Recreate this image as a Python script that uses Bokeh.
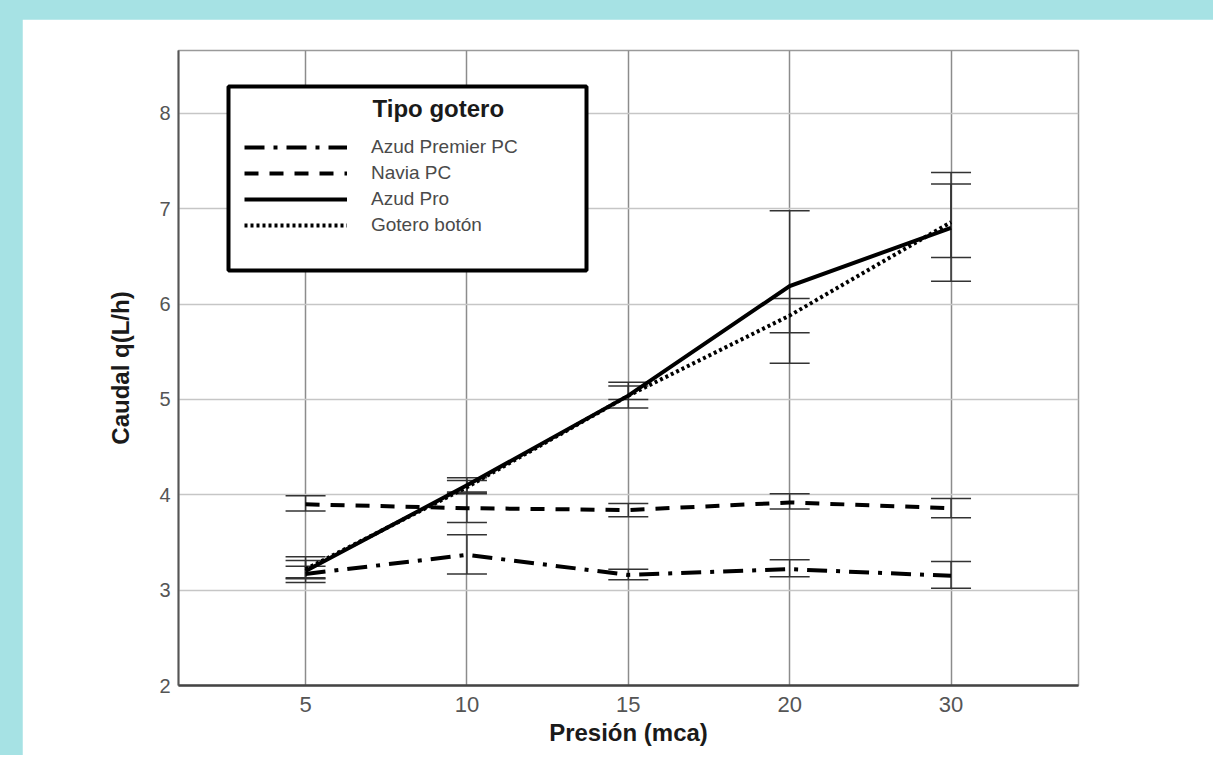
from bokeh.plotting import figure
from bokeh.models import (ColumnDataSource, Whisker, TeeHead, Legend, LegendItem,
                          BoxAnnotation, Label, FixedTicker, Range1d, Spacer)
from bokeh.layouts import row, column
from bokeh.embed import file_html
from bokeh.resources import INLINE

# ---------------- data ----------------
pressures = ["5", "10", "15", "20", "30"]
x_pos = [1, 2, 3, 4, 5]

premier_mean = [3.17, 3.37, 3.16, 3.22, 3.15]
premier_low = [3.12, 3.17, 3.11, 3.14, 3.02]
premier_high = [3.25, 3.58, 3.22, 3.32, 3.30]

navia_mean = [3.90, 3.86, 3.84, 3.92, 3.86]
navia_low = [3.83, 3.71, 3.77, 3.85, 3.76]
navia_high = [3.99, 4.02, 3.91, 4.01, 3.96]

pro_mean = [3.20, 4.10, 5.04, 6.19, 6.80]
pro_low = [3.08, 4.01, 4.91, 5.38, 6.24]
pro_high = [3.35, 4.18, 5.18, 6.98, 7.38]

boton_mean = [3.22, 4.08, 5.04, 5.88, 6.86]
boton_low = [3.13, 4.03, 5.00, 5.70, 6.49]
boton_high = [3.31, 4.15, 5.14, 6.06, 7.26]

series_names = ["Azud Premier PC", "Navia PC", "Azud Pro", "Gotero botón"]

FONT = "Liberation Sans"

p = figure(width=1191, height=736, output_backend="svg", toolbar_location=None,
           x_range=Range1d(0.2125, 5.79), y_range=Range1d(2, 8.66),
           min_border_left=156, min_border_right=135, min_border_top=31,
           min_border_bottom=70, background_fill_color="white",
           border_fill_color="white")

# axes
p.xaxis.ticker = FixedTicker(ticks=x_pos)
p.xaxis.major_label_overrides = {x: lab for x, lab in zip(x_pos, pressures)}
p.yaxis.ticker = FixedTicker(ticks=[2, 3, 4, 5, 6, 7, 8])
for ax in (p.xaxis, p.yaxis):
    ax.major_tick_line_color = None
    ax.minor_tick_line_color = None
    ax.major_tick_out = 0
    ax.major_tick_in = 0
    ax.major_label_text_font = FONT
    ax.major_label_text_color = "#555555"
    ax.axis_label_text_font = FONT
    ax.axis_label_text_font_style = "bold"
    ax.axis_label_text_color = "#1a1a1a"
    ax.axis_label_text_font_size = "24px"
p.xaxis.major_label_text_font_size = "22px"
p.yaxis.major_label_text_font_size = "20px"
p.xaxis.major_label_standoff = 11
p.yaxis.major_label_standoff = 8
p.xaxis.axis_label = "Presión (mca)"
p.yaxis.axis_label = "Caudal q(L/h)"
p.xaxis.axis_label_standoff = 4
p.yaxis.axis_label_standoff = 22
p.xaxis.axis_line_color = "#444444"
p.xaxis.axis_line_width = 2.5
p.yaxis.axis_line_color = "#555555"
p.yaxis.axis_line_width = 2

p.xgrid.grid_line_color = "#8c8c8c"
p.xgrid.grid_line_width = 1.5
p.ygrid.grid_line_color = "#c6c6c6"
p.ygrid.grid_line_width = 1.5
p.outline_line_color = "#9a9a9a"
p.outline_line_width = 1.5

# error bars
all_series = [
    (premier_mean, premier_low, premier_high, "20 9 4 9"),
    (navia_mean, navia_low, navia_high, "14 11"),
    (pro_mean, pro_low, pro_high, "solid"),
    (boton_mean, boton_low, boton_high, "3 3"),
]

renderers = []
for mean, low, high, dash in all_series:
    src = ColumnDataSource(dict(x=x_pos, y=mean, lower=low, upper=high))
    w = Whisker(source=src, base="x", lower="lower", upper="upper",
                line_color="#333333", line_width=1.5, level="underlay",
                upper_head=TeeHead(size=40, line_color="#333333", line_width=1.5),
                lower_head=TeeHead(size=40, line_color="#333333", line_width=1.5))
    p.add_layout(w)

for mean, low, high, dash in all_series:
    src = ColumnDataSource(dict(x=x_pos, y=mean))
    r = p.line("x", "y", source=src, line_color="black", line_width=4,
               line_dash=dash, line_join="miter")
    renderers.append(r)

# legend box
box = BoxAnnotation(left=50, right=408, top=599, bottom=415,
                    left_units="screen", right_units="screen",
                    top_units="screen", bottom_units="screen",
                    fill_color="white", fill_alpha=1.0,
                    line_color="black", line_width=4, line_alpha=1.0)
p.add_layout(box)

legend = Legend(items=[LegendItem(label=n, renderers=[r]) for n, r in zip(series_names, renderers)],
                location=(66, 449), glyph_width=103, glyph_height=20,
                label_standoff=24, label_height=20, spacing=4, padding=10,
                border_line_color=None, background_fill_alpha=0.0,
                label_text_font=FONT, label_text_font_size="19px",
                label_text_color="#4a4a4a")
p.add_layout(legend)

title = Label(x=194, y=577, x_units="screen", y_units="screen", text="Tipo gotero",
              text_font=FONT, text_font_size="24px", text_font_style="bold",
              text_baseline="middle", text_color="#1a1a1a")
p.add_layout(title)

layout = row(Spacer(width=22, height=755),
             column(Spacer(width=1191, height=19), p),
             styles={"background-color": "#a6e2e4"})

open("out.html", "w").write(file_html(layout, INLINE))
